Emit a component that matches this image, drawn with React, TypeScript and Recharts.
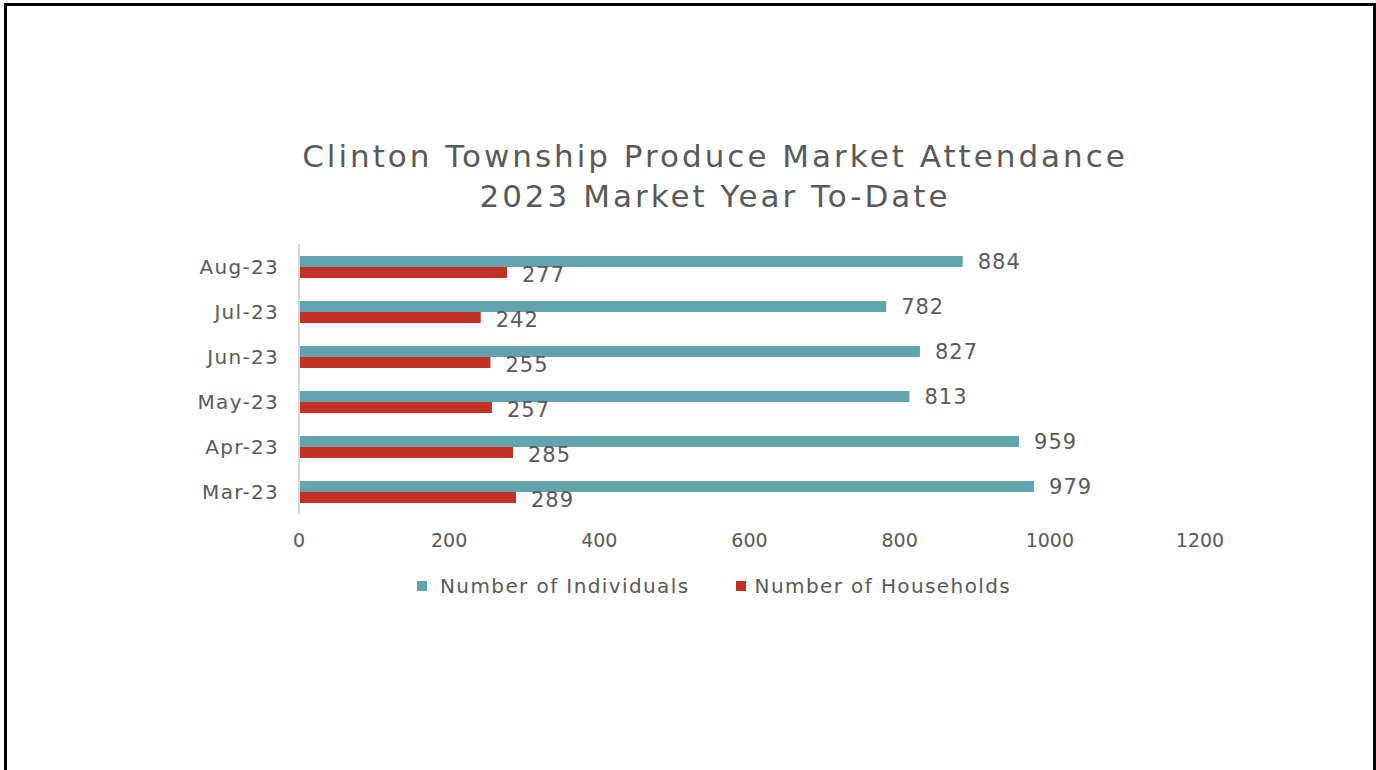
import React from "react";
import { BarChart, Bar, XAxis, YAxis, LabelList } from "recharts";

const months = ["Mar-23", "Apr-23", "May-23", "Jun-23", "Jul-23", "Aug-23"];
const individuals = [979, 959, 813, 827, 782, 884];
const households = [289, 285, 257, 255, 242, 277];
const xTicks = [0, 200, 400, 600, 800, 1000, 1200];

const data = months.map((m, i) => ({
  month: m,
  individuals: individuals[i],
  households: households[i],
}));

const FONT = "'DejaVu Sans', sans-serif";
const GRAY = "#595959";
const TEAL = "#62a3ae";
const RED = "#c33125";

const XTick = (props: any) => {
  const { x, y, payload } = props;
  return (
    <text x={x} y={y + 18} textAnchor="middle" dominantBaseline="central" fill={GRAY} fontSize={19} fontFamily={FONT}>
      {payload.value}
    </text>
  );
};

const YTick = (props: any) => {
  const { x, y, payload } = props;
  return (
    <text x={x} y={y} textAnchor="end" dominantBaseline="central" fill={GRAY} fontSize={20} letterSpacing={1.3} fontFamily={FONT}>
      {payload.value}
    </text>
  );
};

const makeLabel = (dyv: number) => (props: any) => {
  const { x, y, width, height, value } = props;
  return (
    <text x={x + width + 15} y={y + height / 2 + dyv} textAnchor="start" dominantBaseline="central" fill={GRAY} fontSize={21} letterSpacing={1} fontFamily={FONT}>
      {value}
    </text>
  );
};

export default function App() {
  return (
    <div style={{ position: "relative", width: 1376, height: 770, overflow: "hidden", background: "#fff" }}>
      <style>{"body{margin:0}"}</style>
      <div
        style={{
          position: "absolute",
          left: 4,
          top: 3,
          width: 1372,
          height: 820,
          border: "3px solid #000",
          boxSizing: "border-box",
        }}
      />
      <div
        style={{
          position: "absolute",
          left: 0,
          width: 1430,
          top: 136,
          textAlign: "center",
          color: GRAY,
          fontFamily: FONT,
          fontSize: 31,
          letterSpacing: 3,
          lineHeight: "40px",
        }}
      >
        <div>Clinton Township Produce Market Attendance</div>
        <div>2023 Market Year To-Date</div>
      </div>
      <div style={{ position: "absolute", left: 0, top: 0 }}>
        <BarChart
          width={1376}
          height={770}
          data={data}
          layout="vertical"
          margin={{ top: 244, right: 176, bottom: 216, left: 199 }}
          barGap={0}
          barSize={11}
        >
          <XAxis
            type="number"
            domain={[0, 1200]}
            ticks={xTicks}
            axisLine={false}
            tickLine={false}
            height={40}
            tick={<XTick />}
            interval={0}
          />
          <YAxis
            type="category"
            dataKey="month"
            reversed
            width={100}
            axisLine={{ stroke: "#d9d9d9", strokeWidth: 2 }}
            tickLine={false}
            tick={<YTick />}
            tickMargin={14}
            interval={0}
          />
          <Bar dataKey="individuals" fill={TEAL} isAnimationActive={false}>
            <LabelList dataKey="individuals" content={makeLabel(0)} />
          </Bar>
          <Bar dataKey="households" fill={RED} isAnimationActive={false}>
            <LabelList dataKey="households" content={makeLabel(2)} />
          </Bar>
        </BarChart>
      </div>
      <div
        style={{
          position: "absolute",
          top: 574,
          left: 417,
          display: "flex",
          alignItems: "center",
          fontFamily: FONT,
          fontSize: 20,
          letterSpacing: 1.4,
          color: GRAY,
        }}
      >
        <span style={{ width: 10, height: 10, background: TEAL, display: "inline-block", marginRight: 13 }} />
        <span>Number of Individuals</span>
        <span style={{ width: 10, height: 10, background: RED, display: "inline-block", marginLeft: 46, marginRight: 9 }} />
        <span>Number of Households</span>
      </div>
    </div>
  );
}
